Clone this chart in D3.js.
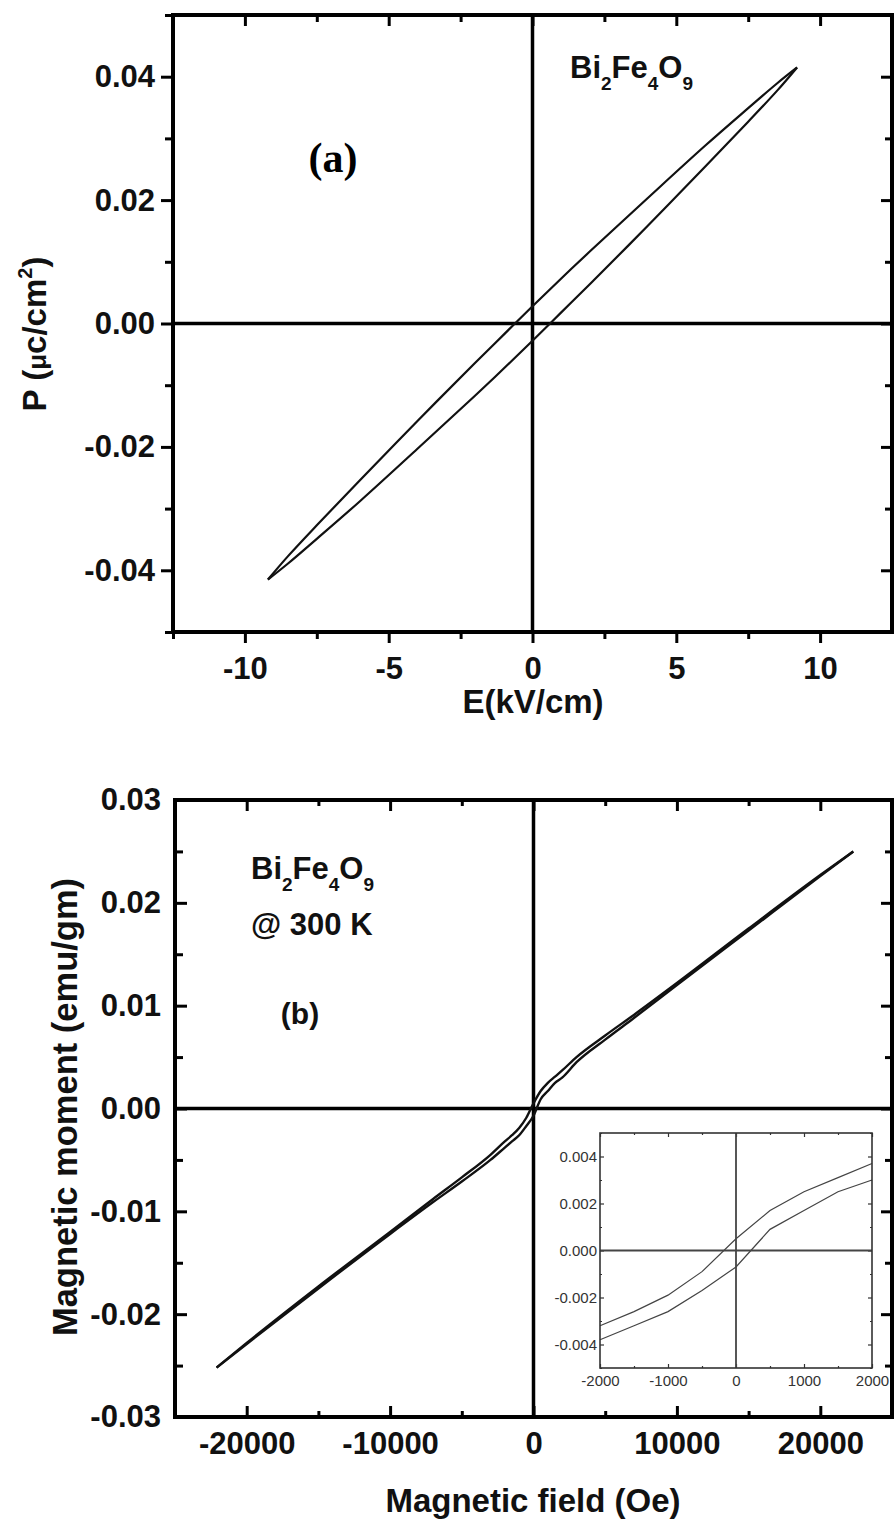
<!DOCTYPE html>
<meta charset="utf-8">
<style>
body { margin: 0; background: #fff; }
svg text { font-family: Arial, "Liberation Sans", sans-serif; }
.tk text { font-size: 31px; font-weight: bold; fill: #111; }
.tk line { stroke: #000; stroke-width: 3; }
.tk path.domain { display: none; }
.ins text { font-size: 15px; fill: #333; }
.ins line { stroke: #333; stroke-width: 1.2; }
.ins path.domain { display: none; }
.title { font-size: 33px; font-weight: bold; fill: #111; }
</style>
<body>
<script src="https://cdn.jsdelivr.net/npm/d3@7"></script>
<script>

// ---- panel (a): P-E loop
var loopE = [-9.2, -8.5, -7.5, -6, -4, -2, -1, 0, 1, 2, 4, 6, 7.5, 8.5, 9.2];
var loopUpper = [-0.0415, -0.0377, -0.0327, -0.0254, -0.0158, -0.0064, -0.0018, 0.0028, 0.0073, 0.0117, 0.0203, 0.0288, 0.0349, 0.0389, 0.0415];
var loopLower = [-0.0415, -0.0389, -0.0349, -0.0288, -0.0203, -0.0117, -0.0073, -0.0028, 0.0018, 0.0064, 0.0158, 0.0254, 0.0327, 0.0377, 0.0415];
var eTicks = [-10, -5, 0, 5, 10];
var pTicks = [-0.04, -0.02, 0.00, 0.02, 0.04];

// ---- panel (b): M-H loop
var fieldH = [-22100, -20000, -15000, -10000, -7000, -5000, -3000, -2000, -1500, -1000, -500, 0, 500, 1000, 1500, 2000, 3000, 5000, 7000, 10000, 15000, 20000, 22300];
var momentUpper = [-0.0252, -0.0228, -0.0173, -0.0120, -0.0088, -0.0067, -0.0045, -0.0032, -0.0026, -0.0019, -0.0009, 0.0005, 0.0017, 0.0025, 0.0031, 0.0037, 0.0050, 0.0071, 0.0091, 0.0122, 0.0175, 0.0227, 0.0250];
var momentLower = [-0.0252, -0.0229, -0.0175, -0.0122, -0.0091, -0.0071, -0.0050, -0.0038, -0.0032, -0.0026, -0.0017, -0.0007, 0.0009, 0.0017, 0.0025, 0.0030, 0.0045, 0.0067, 0.0088, 0.0120, 0.0173, 0.0226, 0.0250];
var hTicks = [-20000, -10000, 0, 10000, 20000];
var mTicks = [-0.03, -0.02, -0.01, 0.00, 0.01, 0.02, 0.03];

// inset: low-field detail
var insetH = [-2000, -1500, -1000, -500, 0, 500, 1000, 1500, 2000];
var insetUpper = [-0.0032, -0.0026, -0.0019, -0.0009, 0.0005, 0.0017, 0.0025, 0.0031, 0.0037];
var insetLower = [-0.0038, -0.0032, -0.0026, -0.0017, -0.0007, 0.0009, 0.0017, 0.0025, 0.0030];
var insetXTicks = [-2000, -1000, 0, 1000, 2000];
var insetYTicks = [-0.004, -0.002, 0.000, 0.002, 0.004];

var svg = d3.select("body").append("svg")
    .attr("width", 894)
    .attr("height", 1522);

function zip(xs, ys) { return xs.map(function(x, i) { return [x, ys[i]]; }); }

// plain hyphen instead of d3's unicode minus
function fmt(spec) {
  var f = d3.format(spec);
  return function(d) { return f(d).replace("\u2212", "-"); };
}

// ================= panel (a) =================
var xa = d3.scaleLinear().domain([-12.5, 12.5]).range([173, 892]);
var ya = d3.scaleLinear().domain([-0.05, 0.05]).range([632, 15]);

var ga = svg.append("g");

// minor ticks
ga.append("g").attr("class", "tk").attr("transform", "translate(173,0)")
    .call(d3.axisLeft(ya).tickValues([-0.05, -0.03, -0.01, 0.01, 0.03, 0.05]).tickSize(8).tickFormat(""));
ga.append("g").attr("class", "tk").attr("transform", "translate(892,0)")
    .call(d3.axisRight(ya).tickValues([-0.03, -0.01, 0.01, 0.03]).tickSize(-7).tickFormat(""));
ga.append("g").attr("class", "tk").attr("transform", "translate(0,632)")
    .call(d3.axisBottom(xa).tickValues([-12.5, -7.5, -2.5, 2.5, 7.5]).tickSize(7).tickFormat(""));
ga.append("g").attr("class", "tk").attr("transform", "translate(0,15)")
    .call(d3.axisTop(xa).tickValues([-7.5, -2.5, 2.5, 7.5]).tickSize(-7).tickFormat(""));

// major ticks
ga.append("g").attr("class", "tk").attr("transform", "translate(173,0)")
    .call(d3.axisLeft(ya).tickValues(pTicks).tickSize(12).tickPadding(6).tickFormat(fmt(".2f")));
ga.append("g").attr("class", "tk").attr("transform", "translate(892,0)")
    .call(d3.axisRight(ya).tickValues(pTicks).tickSize(-11).tickFormat(""));
ga.append("g").attr("class", "tk").attr("transform", "translate(0,632)")
    .call(d3.axisBottom(xa).tickValues(eTicks).tickSize(11).tickPadding(14).tickFormat(fmt("d")));
ga.append("g").attr("class", "tk").attr("transform", "translate(0,15)")
    .call(d3.axisTop(xa).tickValues(eTicks).tickSize(-11).tickFormat(""));

// zero lines
ga.append("line").attr("x1", xa(0)).attr("x2", xa(0)).attr("y1", 15).attr("y2", 632)
    .attr("stroke", "#000").attr("stroke-width", 3.5);
ga.append("line").attr("x1", 173).attr("x2", 892).attr("y1", ya(0)).attr("y2", ya(0))
    .attr("stroke", "#000").attr("stroke-width", 3.5);

var lineA = d3.line()
    .x(function(d) { return xa(d[0]); })
    .y(function(d) { return ya(d[1]); })
    .curve(d3.curveCatmullRom);

ga.append("path").datum(zip(loopE, loopUpper)).attr("d", lineA)
    .attr("fill", "none").attr("stroke", "#111").attr("stroke-width", 2.2);
ga.append("path").datum(zip(loopE, loopLower)).attr("d", lineA)
    .attr("fill", "none").attr("stroke", "#111").attr("stroke-width", 2.2);

// frame
ga.append("rect").attr("x", 173).attr("y", 15).attr("width", 892 - 173).attr("height", 632 - 15)
    .attr("fill", "none").attr("stroke", "#000").attr("stroke-width", 4);

// labels
ga.append("text").attr("class", "title")
    .attr("x", 533).attr("y", 713).attr("text-anchor", "middle")
    .text("E(kV/cm)");

var ttlA = ga.append("text").attr("class", "title")
    .attr("transform", "translate(46,334) rotate(-90)")
    .attr("text-anchor", "middle");
ttlA.append("tspan").text("P (");
ttlA.append("tspan").text("\u03bc").style("font-size", "26px");
ttlA.append("tspan").text("c/cm");
ttlA.append("tspan").text("2").style("font-size", "20px").attr("dy", -14);
ttlA.append("tspan").text(")").attr("dy", 14);

ga.append("text")
    .attr("x", 333).attr("y", 172).attr("text-anchor", "middle")
    .style("font-family", "'Liberation Serif', 'Times New Roman', serif")
    .style("font-weight", "bold").style("font-size", "42px")
    .text("(a)");

function formula(g, x, y, size) {
  var t = g.append("text").attr("x", x).attr("y", y)
      .style("font-weight", "bold").style("font-size", size + "px").attr("fill", "#111");
  var sub = Math.round(size * 0.6), off = Math.round(size * 0.38);
  t.append("tspan").text("Bi");
  t.append("tspan").text("2").style("font-size", sub + "px").attr("dy", off);
  t.append("tspan").text("Fe").attr("dy", -off);
  t.append("tspan").text("4").style("font-size", sub + "px").attr("dy", off);
  t.append("tspan").text("O").attr("dy", -off);
  t.append("tspan").text("9").style("font-size", sub + "px").attr("dy", off);
  return t;
}
formula(ga, 570, 78, 31);

// ================= panel (b) =================
var xb = d3.scaleLinear().domain([-25000, 25000]).range([175, 892]);
var yb = d3.scaleLinear().domain([-0.03, 0.03]).range([1417, 800]);

var gb = svg.append("g");

gb.append("g").attr("class", "tk").attr("transform", "translate(175,0)")
    .call(d3.axisLeft(yb).tickValues([-0.025, -0.015, -0.005, 0.005, 0.015, 0.025]).tickSize(-8).tickFormat(""));
gb.append("g").attr("class", "tk").attr("transform", "translate(892,0)")
    .call(d3.axisRight(yb).tickValues([-0.025, -0.015, -0.005, 0.005, 0.015, 0.025]).tickSize(-7).tickFormat(""));
gb.append("g").attr("class", "tk").attr("transform", "translate(0,1417)")
    .call(d3.axisBottom(xb).tickValues([-15000, -5000, 5000, 15000]).tickSize(-6).tickFormat(""));
gb.append("g").attr("class", "tk").attr("transform", "translate(0,800)")
    .call(d3.axisTop(xb).tickValues([-15000, -5000, 5000, 15000]).tickSize(-6).tickFormat(""));

gb.append("g").attr("class", "tk").attr("transform", "translate(175,0)")
    .call(d3.axisLeft(yb).tickValues(mTicks).tickSize(-12).tickPadding(14).tickFormat(fmt(".2f")));
gb.append("g").attr("class", "tk").attr("transform", "translate(892,0)")
    .call(d3.axisRight(yb).tickValues(mTicks).tickSize(-11).tickFormat(""));
gb.append("g").attr("class", "tk").attr("transform", "translate(0,1417)")
    .call(d3.axisBottom(xb).tickValues(hTicks).tickSize(-11).tickPadding(15).tickFormat(fmt("d")));
gb.append("g").attr("class", "tk").attr("transform", "translate(0,800)")
    .call(d3.axisTop(xb).tickValues(hTicks).tickSize(-11).tickFormat(""));

gb.append("line").attr("x1", xb(0)).attr("x2", xb(0)).attr("y1", 800).attr("y2", 1417)
    .attr("stroke", "#000").attr("stroke-width", 3.5);
gb.append("line").attr("x1", 175).attr("x2", 892).attr("y1", yb(0)).attr("y2", yb(0))
    .attr("stroke", "#000").attr("stroke-width", 3.5);

var lineB = d3.line()
    .x(function(d) { return xb(d[0]); })
    .y(function(d) { return yb(d[1]); })
    .curve(d3.curveMonotoneX);

gb.append("path").datum(zip(fieldH, momentUpper)).attr("d", lineB)
    .attr("fill", "none").attr("stroke", "#111").attr("stroke-width", 2.4);
gb.append("path").datum(zip(fieldH, momentLower)).attr("d", lineB)
    .attr("fill", "none").attr("stroke", "#111").attr("stroke-width", 2.4);

gb.append("rect").attr("x", 175).attr("y", 800).attr("width", 892 - 175).attr("height", 1417 - 800)
    .attr("fill", "none").attr("stroke", "#000").attr("stroke-width", 4);

gb.append("text").attr("class", "title")
    .attr("x", 533).attr("y", 1512).attr("text-anchor", "middle")
    .text("Magnetic field (Oe)");
gb.append("text").attr("class", "title")
    .attr("transform", "translate(77,1107) rotate(-90)")
    .attr("text-anchor", "middle")
    .style("font-size", "34.5px")
    .text("Magnetic moment (emu/gm)");

formula(gb, 251, 879, 31);
gb.append("text").attr("x", 251).attr("y", 935)
    .style("font-weight", "bold").style("font-size", "31px").attr("fill", "#111")
    .text("@ 300 K");
gb.append("text").attr("x", 300).attr("y", 1024).attr("text-anchor", "middle")
    .style("font-weight", "bold").style("font-size", "30px").attr("fill", "#111")
    .text("(b)");

// ---- inset
var xi = d3.scaleLinear().domain([-2000, 2000]).range([600, 872]);
var yi = d3.scaleLinear().domain([-0.005, 0.005]).range([1368, 1133]);
var gi = svg.append("g");

gi.append("rect").attr("x", 600).attr("y", 1133).attr("width", 272).attr("height", 235)
    .attr("fill", "#fff");

gi.append("g").attr("class", "ins").attr("transform", "translate(600,0)")
    .call(d3.axisLeft(yi).tickValues([-0.005, -0.003, -0.001, 0.001, 0.003, 0.005]).tickSize(-2).tickFormat(""));
gi.append("g").attr("class", "ins").attr("transform", "translate(872,0)")
    .call(d3.axisRight(yi).tickValues([-0.005, -0.003, -0.001, 0.001, 0.003, 0.005]).tickSize(-2).tickFormat(""));
gi.append("g").attr("class", "ins").attr("transform", "translate(0,1368)")
    .call(d3.axisBottom(xi).tickValues([-1500, -500, 500, 1500]).tickSize(-2).tickFormat(""));
gi.append("g").attr("class", "ins").attr("transform", "translate(0,1133)")
    .call(d3.axisTop(xi).tickValues([-1500, -500, 500, 1500]).tickSize(-2).tickFormat(""));

gi.append("g").attr("class", "ins").attr("transform", "translate(600,0)")
    .call(d3.axisLeft(yi).tickValues(insetYTicks).tickSize(-4).tickPadding(3).tickFormat(fmt(".3f")));
gi.append("g").attr("class", "ins").attr("transform", "translate(872,0)")
    .call(d3.axisRight(yi).tickValues(insetYTicks).tickSize(-4).tickFormat(""));
gi.append("g").attr("class", "ins").attr("transform", "translate(0,1368)")
    .call(d3.axisBottom(xi).tickValues(insetXTicks).tickSize(-4).tickPadding(7).tickFormat(fmt("d")));
gi.append("g").attr("class", "ins").attr("transform", "translate(0,1133)")
    .call(d3.axisTop(xi).tickValues(insetXTicks).tickSize(-4).tickFormat(""));

gi.append("line").attr("x1", xi(0)).attr("x2", xi(0)).attr("y1", 1133).attr("y2", 1368)
    .attr("stroke", "#444").attr("stroke-width", 1.8);
gi.append("line").attr("x1", 600).attr("x2", 872).attr("y1", yi(0)).attr("y2", yi(0))
    .attr("stroke", "#444").attr("stroke-width", 1.8);

var lineI = d3.line()
    .x(function(d) { return xi(d[0]); })
    .y(function(d) { return yi(d[1]); });

gi.append("path").datum(zip(insetH, insetUpper)).attr("d", lineI)
    .attr("fill", "none").attr("stroke", "#444").attr("stroke-width", 1.2);
gi.append("path").datum(zip(insetH, insetLower)).attr("d", lineI)
    .attr("fill", "none").attr("stroke", "#444").attr("stroke-width", 1.2);

gi.append("rect").attr("x", 600).attr("y", 1133).attr("width", 272).attr("height", 235)
    .attr("fill", "none").attr("stroke", "#333").attr("stroke-width", 1.6);

</script>
</body>
